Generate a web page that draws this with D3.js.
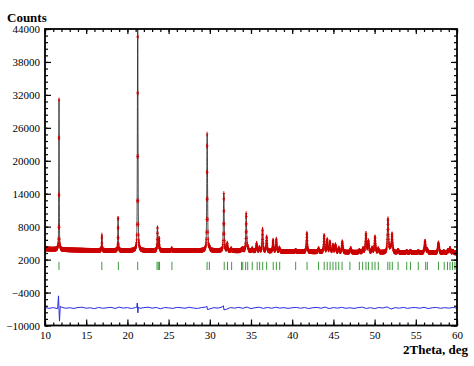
<!DOCTYPE html>
<html><head><meta charset="utf-8">
<script src="https://cdn.jsdelivr.net/npm/d3@7"></script>
<style>body{margin:0;background:#fff}</style>
</head><body>
<svg id="c" width="474" height="366"></svg>
<script>
// ---- data ----
const xTicks = [10,15,20,25,30,35,40,45,50,55,60];
const yTicks = [-10000,-4000,2000,8000,14000,20000,26000,32000,38000,44000];
const bgX = [10, 12, 15, 20, 25, 30, 35, 40, 45, 50, 55, 60];
const bgY = [3950, 3800, 3700, 3650, 3650, 3650, 3550, 3450, 3350, 3300, 3250, 3200];
const peakPos = [11.70,16.90,18.87,21.25,23.65,23.85,25.38,29.68,29.95,31.70,32.12,32.60,33.85,34.02,34.42,34.62,35.15,35.68,36.02,36.40,36.90,37.68,38.08,38.45,40.42,41.78,43.20,43.88,44.25,44.58,44.95,45.25,45.65,46.08,47.10,48.15,48.60,48.95,49.25,49.70,50.05,50.45,51.62,51.90,52.12,52.85,53.90,54.35,55.30,56.12,56.40,57.75,58.40,58.90,59.15,59.50];
const peakInt = [27300,2800,6100,40600,4200,2200,350,21200,500,10400,1300,350,300,400,6800,600,400,1400,600,4000,2600,2000,2200,600,250,3400,600,3000,2200,1800,1200,1300,700,1900,700,300,600,3400,2000,700,2800,600,6100,800,3300,400,200,250,200,2100,500,1800,200,400,800,300];
const braggPos = [11.7,16.9,18.9,21.25,23.6,23.75,23.9,25.4,29.67,29.95,31.75,32.15,32.65,33.85,34.0,34.35,34.6,35.15,35.75,36.05,36.42,36.9,37.7,38.08,38.48,40.42,41.8,43.2,43.88,44.25,44.6,44.95,45.3,45.65,46.05,47.0,48.15,48.55,48.95,49.25,49.7,50.05,50.45,51.6,51.85,52.15,52.85,53.9,54.35,55.3,56.2,56.4,57.75,58.45,58.85,59.15,59.45,59.75];
const diffOffset = -6800;
const diffData = [[10,100],[10.5,-80],[11,60],[11.5,-120],[11.55,200],[11.64,2200],[11.7,-400],[11.76,-2400],[11.85,300],[12,150],[12.5,-60],[13,40],[13.5,-100],[14,80],[14.5,120],[15,-50],[15.5,30],[16,-140],[16.5,90],[17,-60],[17.5,20],[18,110],[18.5,-90],[19,140],[19.5,-30],[20,60],[20.5,-110],[21,80],[21.15,150],[21.2,900],[21.27,-900],[21.33,200],[21.5,-70],[22,50],[22.5,130],[23,-40],[23.5,90],[24,-150],[24.5,60],[25,20],[25.5,-90],[26,100],[26.5,40],[27,-60],[27.5,120],[28,-20],[28.5,-100],[29,70],[29.5,150],[29.65,300],[29.72,-300],[30,-180],[30.5,50],[31,-30],[31.5,180],[31.65,400],[31.72,-350],[32,-250],[32.5,60],[33,-40],[33.5,110],[34,-70],[34.5,160],[35,-120],[35.5,40],[36,130],[36.5,-90],[37,100],[37.5,-60],[38,120],[38.5,-30],[39,50],[39.5,-80],[40,30],[40.5,90],[41,-50],[41.5,70],[42,-110],[42.5,40],[43,90],[43.5,-60],[44,150],[44.5,-120],[45,70],[45.5,-40],[46,110],[46.5,-70],[47,30],[47.5,-90],[48,60],[48.5,140],[49,-100],[49.5,50],[50,-130],[50.5,80],[51,-20],[51.5,190],[52,-200],[52.5,60],[53,-50],[53.5,100],[54,-80],[54.5,40],[55,70],[55.5,-60],[56,120],[56.5,-110],[57,30],[57.5,90],[58,-70],[58.5,50],[59,-40],[59.5,80],[60,-30]];

// ---- drawing ----
const svg = d3.select('#c');
const L=45,R=457,T=29,B=325.5;
const x = d3.scaleLinear().domain([10,60]).range([L,R]);
const y = d3.scaleLinear().domain([-10000,44000]).range([B,T]);
const bg = d3.scaleLinear().domain(bgX).range(bgY);
const eta = 0.45;
function fwhm(t){ return 0.06 + 0.0025*(t-10); }
function profile(t){
  let s = bg(t);
  for (let i=0;i<peakPos.length;i++){
    const d = t-peakPos[i]; if (Math.abs(d)>4) continue;
    const w = fwhm(peakPos[i]); const q = 4*d*d/(w*w);
    s += peakInt[i]*(eta/(1+q) + (1-eta)*Math.exp(-Math.LN2*q));
  }
  return s;
}
svg.append('defs').append('clipPath').attr('id','clip')
  .append('rect').attr('x',L).attr('y',T).attr('width',R-L).attr('height',B-T);
const g = svg.append('g').attr('clip-path','url(#clip)');

// calculated curve
const calcPts = d3.range(10,60.0001,0.004).map(t=>[t,profile(t)]);
g.append('path').attr('d', d3.line().x(d=>x(d[0])).y(d=>y(d[1]))(calcPts))
  .attr('fill','none').attr('stroke','#222').attr('stroke-width',0.8);

// observed markers (+)
const obsPts = d3.range(10,60.0001,0.02).map(t=>[t,profile(t)]);
let pd='';
obsPts.forEach(d=>{const px=x(d[0]),py=y(d[1]); pd+=`M${(px-1.1).toFixed(2)},${py.toFixed(2)}h2.2M${px.toFixed(2)},${(py-2.3).toFixed(2)}v4.6`;});
g.append('path').attr('d',pd).attr('fill','none').attr('stroke','#cc0000').attr('stroke-width',0.9);

// Bragg positions
g.selectAll('line.bragg').data(braggPos).enter().append('line')
  .attr('x1',d=>x(d)).attr('x2',d=>x(d)).attr('y1',y(1600)).attr('y2',y(100))
  .attr('stroke','#3c9c3c').attr('stroke-width',1);

// difference
g.append('path').attr('d', d3.line().x(d=>x(d[0])).y(d=>y(d[1]+diffOffset))(diffData))
  .attr('fill','none').attr('stroke','#2a2ae0').attr('stroke-width',1);

// axes
const font = '"Liberation Serif", "Times New Roman", serif';
function styleAxis(sel){ sel.select('.domain').remove(); sel.selectAll('line').attr('stroke','#000').attr('stroke-width',1.2);
  sel.selectAll('text').attr('font-family',font).attr('font-size',11).attr('fill','#000'); }
const minorX = d3.range(10,60.001,1), minorY = d3.range(-10000,44001,1200);
svg.append('g').attr('transform',`translate(0,${B})`).call(d3.axisBottom(x).tickValues(xTicks).tickSizeInner(-6).tickSizeOuter(0).tickPadding(6)).call(styleAxis);
svg.append('g').attr('transform',`translate(0,${B})`).call(d3.axisBottom(x).tickValues(minorX).tickSizeInner(-3).tickSizeOuter(0).tickFormat('')).call(styleAxis);
svg.append('g').attr('transform',`translate(0,${T})`).call(d3.axisTop(x).tickValues(xTicks).tickSizeInner(-5).tickSizeOuter(0).tickFormat('')).call(styleAxis);
svg.append('g').attr('transform',`translate(0,${T})`).call(d3.axisTop(x).tickValues(minorX).tickSizeInner(-3).tickSizeOuter(0).tickFormat('')).call(styleAxis);
svg.append('g').attr('transform',`translate(${L},0)`).call(d3.axisLeft(y).tickValues(yTicks).tickSizeInner(-6).tickSizeOuter(0).tickPadding(5).tickFormat(d3.format('d'))).call(styleAxis);
svg.append('g').attr('transform',`translate(${L},0)`).call(d3.axisLeft(y).tickValues(minorY).tickSizeInner(-3).tickSizeOuter(0).tickFormat('')).call(styleAxis);
svg.append('g').attr('transform',`translate(${R},0)`).call(d3.axisRight(y).tickValues(yTicks).tickSizeInner(-6).tickSizeOuter(0).tickFormat('')).call(styleAxis);
svg.append('g').attr('transform',`translate(${R},0)`).call(d3.axisRight(y).tickValues(minorY).tickSizeInner(-3).tickSizeOuter(0).tickFormat('')).call(styleAxis);

svg.append('rect').attr('x',L).attr('y',T).attr('width',R-L).attr('height',B-T)
  .attr('fill','none').attr('stroke','#000').attr('stroke-width',1.8);

svg.append('text').attr('x',7).attr('y',21.5).text('Counts')
  .attr('font-family',font).attr('font-weight','bold').attr('font-size',13);
svg.append('text').attr('x',468).attr('y',353.5).attr('text-anchor','end').text('2Theta, deg')
  .attr('font-family',font).attr('font-weight','bold').attr('font-size',13);
</script>
</body></html>
